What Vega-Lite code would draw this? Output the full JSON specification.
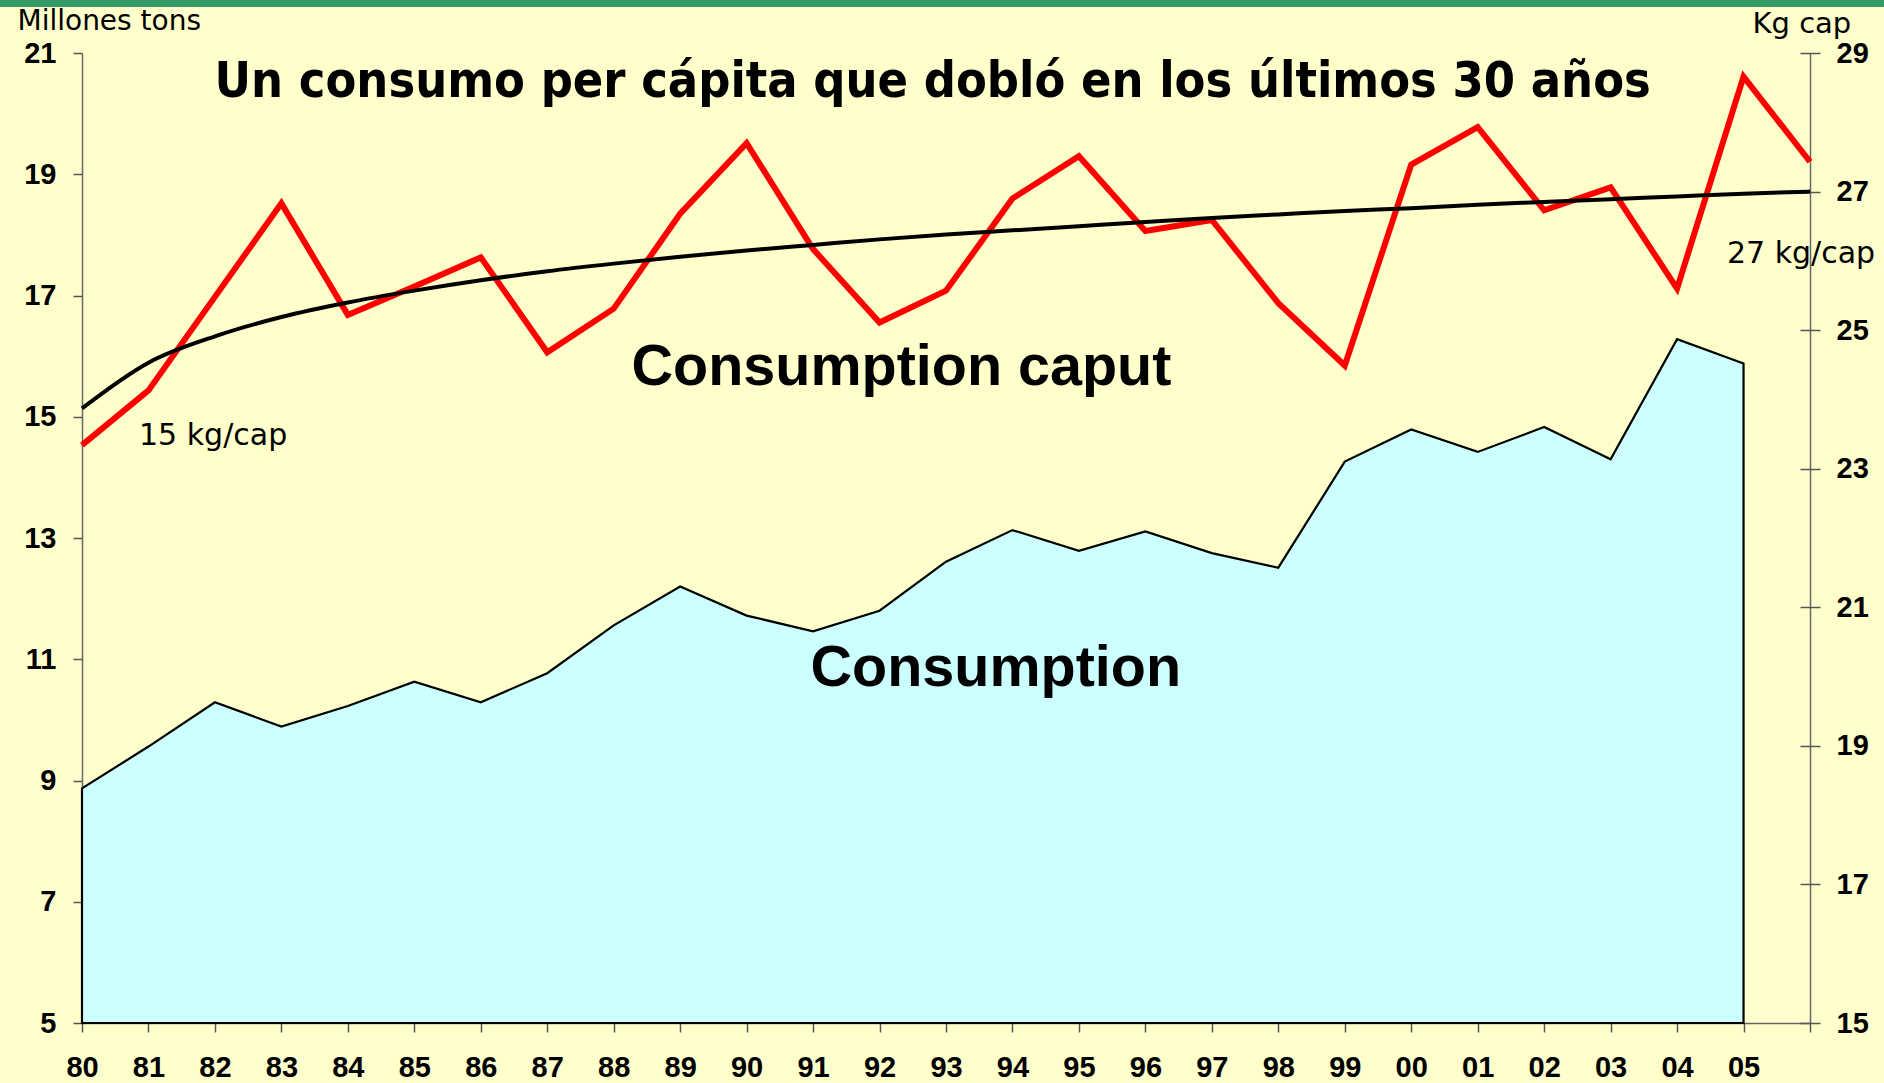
{
  "$schema": "https://vega.github.io/schema/vega-lite/v6.json",
  "width": 1728,
  "height": 970,
  "autosize": "none",
  "padding": {"left": 82, "top": 53, "right": 74, "bottom": 60},
  "background": "#FFFFCC",
  "config": {
    "view": {"stroke": null},
    "axis": {
      "labelFont": "Liberation Sans",
      "labelFontWeight": "bold",
      "labelFontSize": 29,
      "labelColor": "#000000",
      "titleFont": "DejaVu Sans",
      "titleFontWeight": "normal",
      "titleFontSize": 29,
      "titleColor": "#000000",
      "domainColor": "#666666",
      "domainWidth": 1.5,
      "tickColor": "#555555",
      "tickWidth": 1.5,
      "labelFlush": false,
      "labelOverlap": false
    }
  },
  "datasets": {
    "series": [
      {"year": 1980, "mt": 8.87, "kg": 23.34, "trend": 23.87},
      {"year": 1981, "mt": 9.56, "kg": 24.13, "trend": 24.53},
      {"year": 1982, "mt": 10.29, "kg": 25.48, "trend": 24.91},
      {"year": 1983, "mt": 9.89, "kg": 26.83, "trend": 25.19},
      {"year": 1984, "mt": 10.23, "kg": 25.22, "trend": 25.40},
      {"year": 1985, "mt": 10.63, "kg": 25.63, "trend": 25.57},
      {"year": 1986, "mt": 10.29, "kg": 26.05, "trend": 25.72},
      {"year": 1987, "mt": 10.77, "kg": 24.68, "trend": 25.85},
      {"year": 1988, "mt": 11.56, "kg": 25.31, "trend": 25.96},
      {"year": 1989, "mt": 12.20, "kg": 26.68, "trend": 26.06},
      {"year": 1990, "mt": 11.72, "kg": 27.70, "trend": 26.15},
      {"year": 1991, "mt": 11.46, "kg": 26.17, "trend": 26.23},
      {"year": 1992, "mt": 11.80, "kg": 25.11, "trend": 26.31},
      {"year": 1993, "mt": 12.61, "kg": 25.57, "trend": 26.38},
      {"year": 1994, "mt": 13.13, "kg": 26.90, "trend": 26.44},
      {"year": 1995, "mt": 12.79, "kg": 27.51, "trend": 26.50},
      {"year": 1996, "mt": 13.11, "kg": 26.43, "trend": 26.56},
      {"year": 1997, "mt": 12.75, "kg": 26.59, "trend": 26.62},
      {"year": 1998, "mt": 12.51, "kg": 25.39, "trend": 26.67},
      {"year": 1999, "mt": 14.26, "kg": 24.49, "trend": 26.72},
      {"year": 2000, "mt": 14.79, "kg": 27.39, "trend": 26.76},
      {"year": 2001, "mt": 14.42, "kg": 27.93, "trend": 26.81},
      {"year": 2002, "mt": 14.83, "kg": 26.73, "trend": 26.85},
      {"year": 2003, "mt": 14.30, "kg": 27.06, "trend": 26.89},
      {"year": 2004, "mt": 16.28, "kg": 25.60, "trend": 26.93},
      {"year": 2005, "mt": 15.88, "kg": 28.66, "trend": 26.97},
      {"year": 2006, "mt": null, "kg": 27.43, "trend": 27.00}
    ],
    "labels": [
      {"label": "Un consumo per cápita que dobló en los últimos 30 años"}
    ]
  },
  "layer": [
    {
      "layer": [
        {
          "data": {"name": "series"},
          "mark": {"type": "area", "fill": "#CCFFFF", "stroke": "#000000", "strokeWidth": 2.2, "opacity": 1},
          "encoding": {
            "x": {
              "field": "year",
              "type": "quantitative",
              "scale": {"domain": [1980, 2006], "nice": false, "zero": false},
              "axis": {
                "values": [1980, 1981, 1982, 1983, 1984, 1985, 1986, 1987, 1988, 1989, 1990, 1991, 1992, 1993, 1994, 1995, 1996, 1997, 1998, 1999, 2000, 2001, 2002, 2003, 2004, 2005, 2006],
                "format": "d",
                "labelExpr": "datum.value > 2005 ? '' : substring(datum.label, 2, 4)",
                "title": null,
                "tickSize": 9,
                "labelPadding": 21,
                "grid": true,
                "gridColor": "#666666",
                "gridWidth": 1.5,
                "gridOpacity": {"condition": {"test": "datum.value === 2006", "value": 1}, "value": 0}
              }
            },
            "y": {
              "field": "mt",
              "type": "quantitative",
              "scale": {"domain": [5, 21], "nice": false, "zero": false},
              "axis": {
                "orient": "left",
                "values": [5, 7, 9, 11, 13, 15, 17, 19, 21],
                "format": "d",
                "grid": false,
                "title": "Millones tons",
                "titleFontSize": 28,
                "titleAngle": 0,
                "titleAlign": "left",
                "titleBaseline": "alphabetic",
                "titleX": -65,
                "titleY": -24,
                "tickSize": 9,
                "labelPadding": 17
              }
            },
            "y2": {"datum": 5}
          }
        },
        {
          "data": {"name": "labels"},
          "mark": {"type": "rect", "fill": "#339966"},
          "encoding": {
            "x": {"datum": 1978},
            "x2": {"datum": 2008},
            "y": {"datum": 22.5},
            "y2": {"datum": 21.76}
          }
        },
        {
          "data": {"name": "labels"},
          "mark": {"type": "text", "font": "DejaVu Sans Condensed", "fontWeight": "bold", "fontSize": 50, "align": "center", "baseline": "alphabetic", "color": "#000000"},
          "encoding": {
            "x": {"datum": 1992.8},
            "y": {"datum": 20.274},
            "text": {"field": "label"}
          }
        },
        {
          "data": {"name": "labels"},
          "mark": {"type": "text", "font": "Liberation Sans", "fontWeight": "bold", "fontSize": 57.5, "align": "center", "baseline": "alphabetic", "color": "#000000"},
          "encoding": {
            "x": {"datum": 1992.33},
            "y": {"datum": 15.53},
            "text": {"value": "Consumption caput"}
          }
        },
        {
          "data": {"name": "labels"},
          "mark": {"type": "text", "font": "Liberation Sans", "fontWeight": "bold", "fontSize": 57.5, "align": "center", "baseline": "alphabetic", "color": "#000000"},
          "encoding": {
            "x": {"datum": 1993.75},
            "y": {"datum": 10.559},
            "text": {"value": "Consumption"}
          }
        },
        {
          "data": {"name": "labels"},
          "mark": {"type": "text", "font": "DejaVu Sans", "fontSize": 30, "align": "left", "baseline": "alphabetic", "color": "#000000"},
          "encoding": {
            "x": {"datum": 1980.858},
            "y": {"datum": 14.534},
            "text": {"value": "15 kg/cap"}
          }
        },
        {
          "data": {"name": "labels"},
          "mark": {"type": "text", "font": "DejaVu Sans", "fontSize": 30, "align": "left", "baseline": "alphabetic", "color": "#000000"},
          "encoding": {
            "x": {"datum": 2004.751},
            "y": {"datum": 17.536},
            "text": {"value": "27 kg/cap"}
          }
        }
      ]
    },
    {
      "data": {"name": "series"},
      "layer": [
        {
          "mark": {"type": "line", "color": "#FF0000", "strokeWidth": 6},
          "encoding": {
            "x": {"field": "year", "type": "quantitative"},
            "y": {
              "field": "kg",
              "type": "quantitative",
              "scale": {"domain": [15, 29], "nice": false, "zero": false},
              "axis": {
                "orient": "right",
                "values": [15, 17, 19, 21, 23, 25, 27, 29],
                "format": "d",
                "grid": false,
                "title": "Kg cap",
                "titleAngle": 0,
                "titleAlign": "left",
                "titleBaseline": "alphabetic",
                "titleX": -48,
                "titleY": -21,
                "offset": -10,
                "tickSize": 20,
                "domain": false,
                "labelPadding": 16
              }
            }
          }
        },
        {
          "mark": {"type": "line", "color": "#000000", "strokeWidth": 4, "interpolate": "monotone"},
          "encoding": {
            "x": {"field": "year", "type": "quantitative"},
            "y": {"field": "trend", "type": "quantitative"}
          }
        }
      ]
    }
  ],
  "resolve": {"scale": {"y": "independent"}}
}
